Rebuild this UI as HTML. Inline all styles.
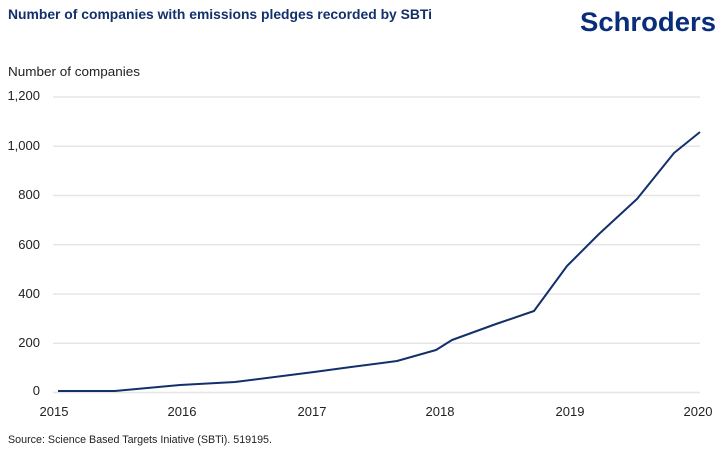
<!DOCTYPE html>
<html><head><meta charset="utf-8"><style>
html,body{margin:0;padding:0;background:#fff;}
svg{display:block;}
</style></head><body>
<svg width="721" height="458" viewBox="0 0 721 458" xmlns="http://www.w3.org/2000/svg" font-family="'Liberation Sans', sans-serif">
<text x="8" y="19" font-size="13.5" font-weight="bold" fill="#13306b" textLength="424" lengthAdjust="spacingAndGlyphs">Number of companies with emissions pledges recorded by SBTi</text>
<text x="580" y="31" font-size="27" font-weight="bold" fill="#0a2d7a" textLength="136" lengthAdjust="spacingAndGlyphs">Schroders</text>
<text x="8" y="76" font-size="13" fill="#222" textLength="132" lengthAdjust="spacingAndGlyphs">Number of companies</text>
<g stroke="#e6e6e6" stroke-width="1.5">
<line x1="53" y1="97" x2="700" y2="97"/>
<line x1="53" y1="146.3" x2="700" y2="146.3"/>
<line x1="53" y1="195.5" x2="700" y2="195.5"/>
<line x1="53" y1="244.8" x2="700" y2="244.8"/>
<line x1="53" y1="294" x2="700" y2="294"/>
<line x1="53" y1="343.3" x2="700" y2="343.3"/>
<line x1="53" y1="392.5" x2="700" y2="392.5"/>
</g>
<g font-size="13" fill="#222" text-anchor="end">
<text x="40" y="100">1,200</text>
<text x="40" y="150">1,000</text>
<text x="40" y="199">800</text>
<text x="40" y="249">600</text>
<text x="40" y="298">400</text>
<text x="40" y="347">200</text>
<text x="40" y="395">0</text>
</g>
<g font-size="13" fill="#222" text-anchor="middle">
<text x="54" y="416">2015</text>
<text x="182" y="416">2016</text>
<text x="312" y="416">2017</text>
<text x="440" y="416">2018</text>
<text x="570" y="416">2019</text>
<text x="698" y="416">2020</text>
</g>
<text x="8" y="443" font-size="11" fill="#222" textLength="264" lengthAdjust="spacingAndGlyphs">Source: Science Based Targets Iniative (SBTi). 519195.</text>
<polyline fill="none" stroke="#13306b" stroke-width="2" stroke-linejoin="round" points="58,391 115,391 180,385 235,382 314,372 351,367 397,361 436,350 452,340 496,324 534,311 567,266 599,234 637,199 674,153 700,132"/>
</svg>
</body></html>
